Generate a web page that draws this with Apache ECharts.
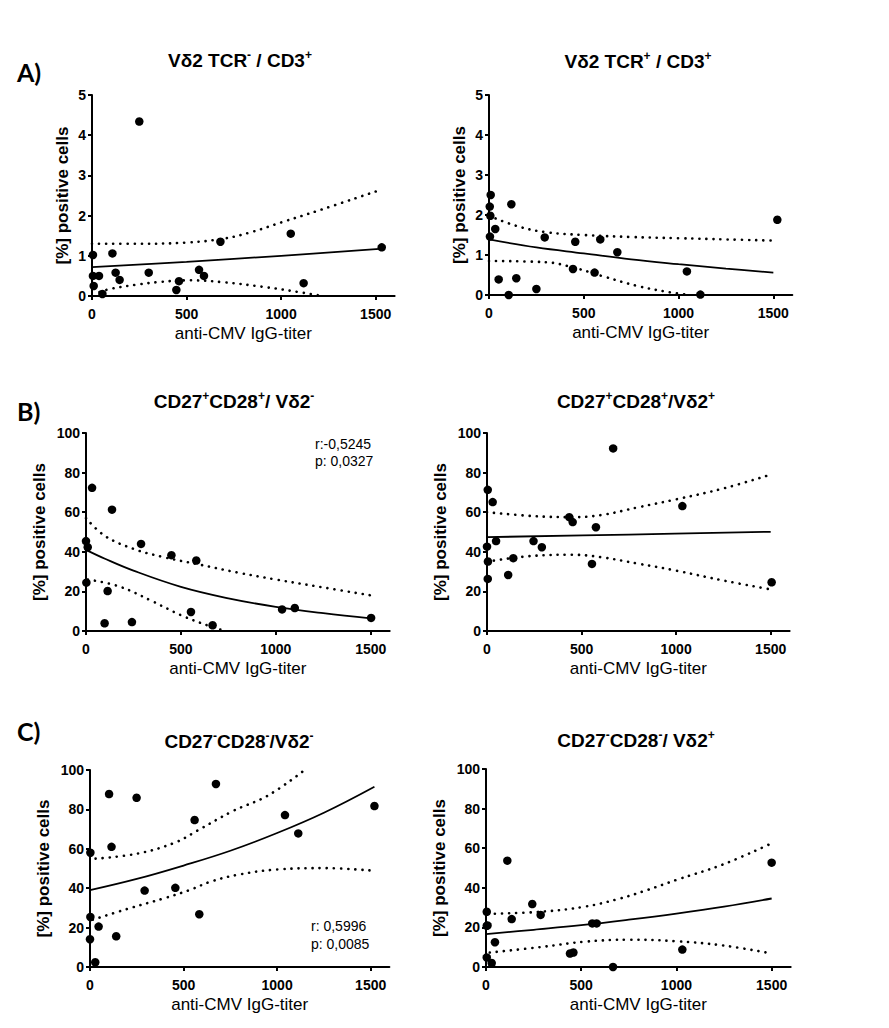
<!DOCTYPE html>
<html>
<head>
<meta charset="utf-8">
<script src="https://cdn.jsdelivr.net/npm/echarts@6/dist/echarts.min.js"></script>
<style>
html,body{margin:0;padding:0;background:#fff;}
#chart{width:889px;height:1028px;}
</style>
</head>
<body>
<div id="chart"></div>
<script>
// ---- data (anti-CMV IgG titer, % positive cells) ----
const xTickValues = [0, 500, 1000, 1500];

// A) Vδ2 TCR- / CD3+
const aLeftPoints = [[5,1.02],[108,1.06],[5,0.5],[37,0.5],[9,0.25],[55,0.05],[125,0.58],[146,0.40],[300,0.58],[460,0.37],[446,0.15],[250,4.34],[566,0.65],[592,0.50],[679,1.35],[1051,1.55],[1119,0.32],[1532,1.21]];
const aLeftFit   = [[0,0.72],[500,0.85],[1000,1.0],[1520,1.17]];
const aLeftUpper = [[0,1.3],[250,1.3],[500,1.33],[700,1.43],[850,1.6],[1000,1.83],[1200,2.13],[1500,2.6]];
const aLeftLower = [[40,0.1],[100,0.18],[250,0.29],[360,0.35],[520,0.39],[700,0.34],[900,0.23],[1050,0.13],[1220,0]];

// A) Vδ2 TCR+ / CD3+
const aRightPoints = [[9,2.5],[4,2.21],[7,1.98],[33,1.65],[5,1.46],[118,2.27],[51,0.39],[144,0.42],[104,0],[250,0.15],[294,1.44],[455,1.33],[443,0.65],[557,0.56],[587,1.39],[677,1.07],[1044,0.59],[1115,0.01],[1521,1.88]];
const aRightFit   = [[0,1.39],[250,1.19],[500,1.04],[750,0.89],[1000,0.77],[1250,0.66],[1500,0.56]];
const aRightUpper = [[0,1.98],[150,1.72],[300,1.57],[500,1.5],[750,1.45],[1000,1.42],[1250,1.39],[1500,1.36]];
const aRightLower = [[0,0.85],[300,0.82],[450,0.68],[600,0.47],[780,0.23],[950,0.07],[1060,0]];

// B) CD27+CD28+ / Vδ2-
const bLeftPoints = [[32,72.3],[137,61.3],[0,45.4],[9,42.3],[290,44.0],[450,38.3],[2,24.4],[114,20.2],[98,3.9],[242,4.5],[581,35.6],[553,9.6],[667,2.9],[1033,10.9],[1100,11.6],[1502,6.6]];
const bLeftFit   = [[0,41],[100,36.5],[250,30.5],[500,22.3],[750,16.5],[1000,12.2],[1250,9],[1500,6.4]];
const bLeftUpper = [[0,57],[100,48],[250,41.5],[400,37.5],[600,33.5],[800,29.5],[1000,26],[1250,22],[1500,18]];
const bLeftLower = [[10,26],[175,22.5],[350,15],[500,8],[650,2.5],[735,0]];

// B) CD27+CD28+ / Vδ2+
const bRightPoints = [[4,71.3],[30,65.1],[0,42.6],[48,45.4],[5,35.1],[4,26.3],[139,36.8],[112,28.3],[246,45.4],[290,42.3],[435,57.5],[453,55.0],[576,52.4],[667,92.2],[555,33.9],[1033,63.1],[1505,24.6]];
const bRightFit   = [[0,47.4],[750,48.7],[1500,50.1]];
const bRightUpper = [[0,60],[250,58],[450,57.5],[600,58.5],[800,62.5],[1000,66.5],[1250,72],[1500,79]];
const bRightLower = [[0,35],[250,38],[450,38.5],[600,37.3],[800,34],[1000,30.5],[1250,25.5],[1500,21]];

// C) CD27-CD28- / Vδ2-
const cLeftPoints = [[2,58.0],[115,61.0],[292,38.8],[456,40.2],[2,25.4],[46,20.5],[0,14.1],[140,15.6],[28,2.4],[102,87.8],[249,85.9],[673,92.9],[559,74.6],[584,26.8],[1042,77.1],[1113,67.8],[1520,81.7]];
const cLeftFit   = [[0,39],[250,44.7],[500,51.5],[750,59],[1000,68],[1250,78.3],[1520,91.5]];
const cLeftUpper = [[30,55],[250,57.5],[450,63],[570,69],[760,79],[950,87],[1140,99.5]];
const cLeftLower = [[15,24],[200,29.5],[400,35],[530,39],[650,43.5],[800,47],[1000,49.5],[1250,50.2],[1500,49]];

// C) CD27-CD28- / Vδ2+
const cRightPoints = [[112,53.7],[243,31.8],[287,26.3],[135,24.2],[4,27.9],[4,20.8],[8,21],[47,12.5],[4,4.8],[30,2.0],[441,6.8],[459,7.3],[558,22],[581,22],[667,0],[1031,8.8],[1500,52.7]];
const cRightFit   = [[0,16.6],[250,18.8],[500,21.1],[750,23.9],[1000,27],[1250,30.5],[1500,34.6]];
const cRightUpper = [[10,26.8],[300,28],[520,30.5],[700,34.5],[850,39],[1000,44],[1250,52],[1500,62.5]];
const cRightLower = [[20,7.3],[300,10.2],[520,12.8],[750,13.8],[1000,13],[1250,10.8],[1500,6.8]];

const panelTitles = [
  '{t|Vδ2 TCR}{s|-}{t| / CD3}{s|+}',
  '{t|Vδ2 TCR}{s|+}{t| / CD3}{s|+}',
  '{t|CD27}{s|+}{t|CD28}{s|+}{t|/ Vδ2}{s|-}',
  '{t|CD27}{s|+}{t|CD28}{s|+}{t|/Vδ2}{s|+}',
  '{t|CD27}{s|-}{t|CD28}{s|-}{t|/Vδ2}{s|-}',
  '{t|CD27}{s|-}{t|CD28}{s|-}{t|/ Vδ2}{s|+}'
];
const xAxisName = 'anti-CMV IgG-titer';
const yAxisName = '[%] positive cells';
const panelLetters = ['A)', 'B)', 'C)'];
const statsB = ['r:-0,5245', 'p: 0,0327'];
const statsC = ['r: 0,5996', 'p: 0,0085'];

// ---- layout ----
const FONT = 'Liberation Sans, Arial, sans-serif';
const panels = [
  {grid:{left:92, top:95, width:302.6, height:201}, yMax:5,   yInt:1,  nameGap:21, pts:aLeftPoints,  fit:aLeftFit,  up:aLeftUpper,  lo:aLeftLower,  title:[240,60]},
  {grid:{left:489,top:95, width:303.3, height:200}, yMax:5,   yInt:1,  nameGap:21, pts:aRightPoints, fit:aRightFit, up:aRightUpper, lo:aRightLower, title:[638,61]},
  {grid:{left:86, top:433,width:303.7, height:198}, yMax:100, yInt:20, nameGap:38, pts:bLeftPoints,  fit:bLeftFit,  up:bLeftUpper,  lo:bLeftLower,  title:[234,401]},
  {grid:{left:487,top:433,width:302.6, height:198}, yMax:100, yInt:20, nameGap:38, pts:bRightPoints, fit:bRightFit, up:bRightUpper, lo:bRightLower, title:[636,401]},
  {grid:{left:90, top:770,width:299.4, height:197}, yMax:100, yInt:20, nameGap:38, pts:cLeftPoints,  fit:cLeftFit,  up:cLeftUpper,  lo:cLeftLower,  title:[239,741]},
  {grid:{left:486,top:769,width:304.7, height:198}, yMax:100, yInt:20, nameGap:38, pts:cRightPoints, fit:cRightFit, up:cRightUpper, lo:cRightLower, title:[636,740]}
];

const axisLine = {show:true, onZero:false, lineStyle:{color:'#000', width:2}};
const axisTick = {show:true, inside:false, length:4, lineStyle:{color:'#000', width:2}};

const grid = [], xAxis = [], yAxis = [], series = [], title = [];
panels.forEach((p, i) => {
  grid.push(Object.assign({containLabel:false}, p.grid));
  xAxis.push({
    type:'value', gridIndex:i, min:0, max:1600,
    axisLine, axisTick:Object.assign({customValues:xTickValues}, axisTick),
    splitLine:{show:false},
    axisLabel:{customValues:xTickValues, formatter:(v) => String(v), color:'#000', fontFamily:FONT, fontWeight:'bold', fontSize:14, margin:11},
    name:xAxisName, nameLocation:'middle', nameGap:29,
    nameTextStyle:{color:'#000', fontFamily:FONT, fontSize:17}
  });
  yAxis.push({
    type:'value', gridIndex:i, min:0, max:p.yMax, interval:p.yInt,
    axisLine, axisTick, splitLine:{show:false},
    axisLabel:{color:'#000', fontFamily:FONT, fontWeight:'bold', fontSize:14, margin:6},
    name:yAxisName, nameLocation:'middle', nameGap:p.nameGap, nameRotate:90,
    nameTextStyle:{color:'#000', fontFamily:FONT, fontWeight:'bold', fontSize:17}
  });
  const lineBase = {type:'line', xAxisIndex:i, yAxisIndex:i, symbol:'none', smooth:0.4, silent:true, clip:true, z:2};
  series.push(Object.assign({}, lineBase, {data:p.fit, lineStyle:{color:'#000', width:1.8}}));
  series.push(Object.assign({}, lineBase, {data:p.up, lineStyle:{color:'#000', width:2.6, type:[0.1,7], cap:'round'}}));
  series.push(Object.assign({}, lineBase, {data:p.lo, lineStyle:{color:'#000', width:2.6, type:[0.1,7], cap:'round'}}));
  series.push({type:'scatter', xAxisIndex:i, yAxisIndex:i, data:p.pts, symbol:'circle', symbolSize:8.5,
    itemStyle:{color:'#000', opacity:1}, clip:false, z:3, silent:true});
  title.push({
    text:panelTitles[i], left:p.title[0], top:p.title[1]-11, textAlign:'center', padding:0,
    textStyle:{
      rich:{
        t:{fontFamily:FONT, fontWeight:'bold', fontSize:19, lineHeight:22, color:'#000'},
        s:{fontFamily:FONT, fontWeight:'bold', fontSize:12, lineHeight:12, color:'#000', verticalAlign:'top'}
      }
    }
  });
});

const letterStyle = {fontFamily:'Lato, Open Sans, sans-serif', fontWeight:'bold', fontSize:25, fill:'#000'};
const statStyle = {fontFamily:FONT, fontSize:14, fill:'#000'};
const graphic = [
  {type:'text', left:17, top:59, style:Object.assign({text:panelLetters[0]}, letterStyle)},
  {type:'text', left:17, top:398, style:Object.assign({text:panelLetters[1]}, letterStyle)},
  {type:'text', left:17, top:718, style:Object.assign({text:panelLetters[2]}, letterStyle)},
  {type:'text', left:315, top:437, style:Object.assign({text:statsB[0]}, statStyle)},
  {type:'text', left:315, top:454, style:Object.assign({text:statsB[1]}, statStyle)},
  {type:'text', left:311, top:919, style:Object.assign({text:statsC[0]}, statStyle)},
  {type:'text', left:311, top:937, style:Object.assign({text:statsC[1]}, statStyle)}
];

const chart = echarts.init(document.getElementById('chart'), null, {renderer:'svg'});
chart.setOption({animation:false, backgroundColor:'#fff', title, grid, xAxis, yAxis, series, graphic});
</script>
</body>
</html>
